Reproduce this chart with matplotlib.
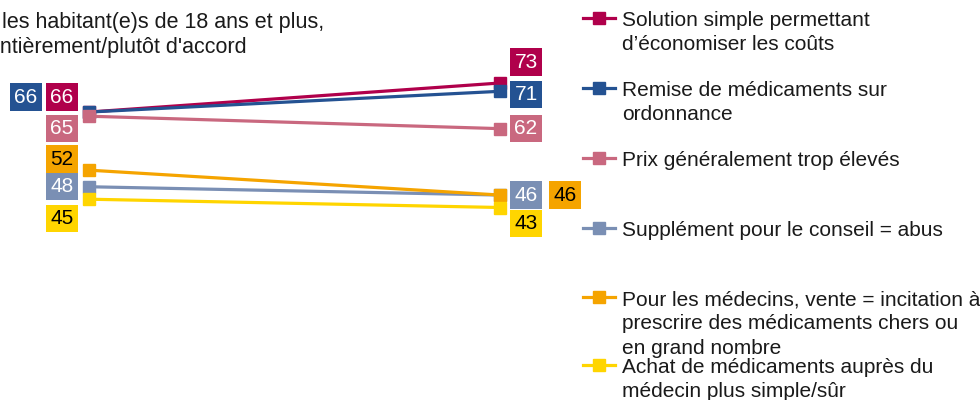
import matplotlib.pyplot as plt
from matplotlib.lines import Line2D

plt.rcParams['font.family'] = ['Liberation Sans', 'DejaVu Sans']

# two survey waves, values in %
waves = [0, 1]
series = [
    "Solution simple permettant\nd’économiser les coûts",
    "Remise de médicaments sur\nordonnance",
    "Prix généralement trop élevés",
    "Supplément pour le conseil = abus",
    "Pour les médecins, vente = incitation à\nprescrire des médicaments chers ou\nen grand nombre",
    "Achat de médicaments auprès du\nmédecin plus simple/sûr",
]
first_wave = [66, 66, 65, 48, 52, 45]
second_wave = [73, 71, 62, 46, 46, 43]

colors = ['#B0004B', '#245292', '#C9687F', '#7A8FB4', '#F5A400', '#FFD500']
text_colors = ['white', 'white', 'white', 'white', 'black', 'black']

# label box offsets in pixels (left point, right point)
left_off = [(-27, 15), (-63, 15), (-27, -12), (-27, 0), (-27, 11), (-27, -19)]
right_off = [(26, 21), (26, -3), (26, 0), (26, 0), (65, 0), (26, -16)]

W, H = 980, 400
fig = plt.figure(figsize=(9.8, 4), dpi=100)
ax = fig.add_axes([0, 0, 1, 1])
ax.axis('off')

# pixel scale: wave 0 at x=89, wave 1 at x=500; 4.15 px per point, 73 at y=83
xs = 500 - 89
ax.set_xlim(-89 / xs, (W - 89) / xs)
py = 4.15
v0 = 73 - (H - 83) / py
ax.set_ylim(v0, v0 + H / py)

for i in range(len(series)):
    vals = [first_wave[i], second_wave[i]]
    ax.plot(waves, vals, color=colors[i], lw=2.3, marker='s', ms=9,
            solid_capstyle='butt', zorder=2 + i)
    for x, v, off in [(waves[0], vals[0], left_off[i]), (waves[1], vals[1], right_off[i])]:
        ax.annotate(str(v), (x, v), xytext=off, textcoords='offset pixels',
                    ha='center', va='center', fontsize=15, color=text_colors[i],
                    bbox=dict(boxstyle='square,pad=0.2', fc=colors[i], ec='none'),
                    zorder=10)

# title (partly cut off at the left edge)
fig.text(2 / W, 1 - 28 / H, "les habitant(e)s de 18 ans et plus,", fontsize=15.5,
         color='#1a1a1a', va='baseline', ha='left')
fig.text(-12 / W, 1 - 53 / H, "entièrement/plutôt d'accord", fontsize=15.5,
         color='#1a1a1a', va='baseline', ha='left')

# legend
leg_y = [18, 88, 158, 228, 297, 365]
for i, name in enumerate(series):
    y = 1 - leg_y[i] / H
    fig.add_artist(Line2D([583 / W, 615 / W], [y, y], color=colors[i], lw=2.3,
                          transform=fig.transFigure))
    fig.add_artist(Line2D([599 / W], [y], color=colors[i], marker='s', ms=8,
                          transform=fig.transFigure))
    fig.text(622 / W, y + 7 / H, name, fontsize=15, color='#1a1a1a',
             va='top', ha='left', linespacing=1.35)

fig.savefig('out.png', dpi=100)
